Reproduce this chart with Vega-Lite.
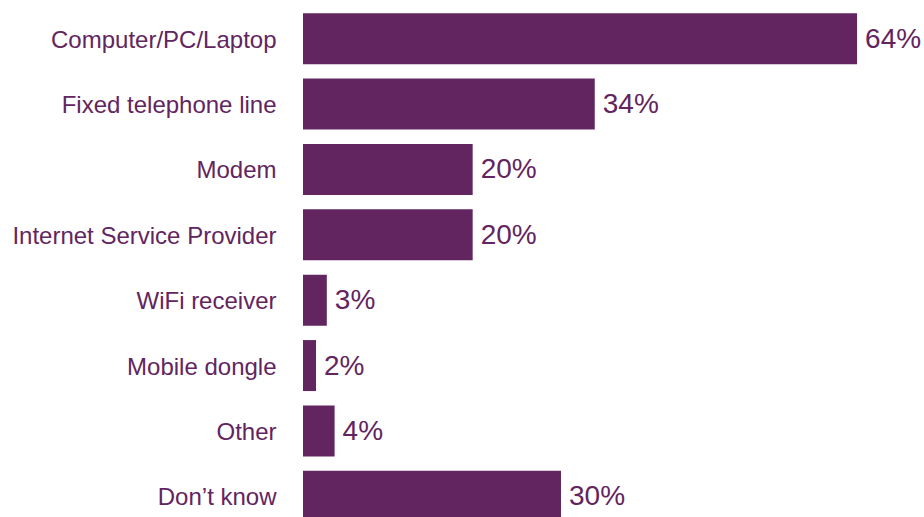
{
  "$schema": "https://vega.github.io/schema/vega-lite/v6.json",
  "autosize": {"type": "none"},
  "width": 606,
  "height": 523,
  "padding": {"left": 303, "top": 6, "right": 15, "bottom": 0},
  "background": "white",
  "data": {"values": [
    {"item": "Computer/PC/Laptop", "pct": 64, "label": "64%"},
    {"item": "Fixed telephone line", "pct": 33.7, "label": "34%"},
    {"item": "Modem", "pct": 19.6, "label": "20%"},
    {"item": "Internet Service Provider", "pct": 19.6, "label": "20%"},
    {"item": "WiFi receiver", "pct": 2.75, "label": "3%"},
    {"item": "Mobile dongle", "pct": 1.5, "label": "2%"},
    {"item": "Other", "pct": 3.65, "label": "4%"},
    {"item": "Don’t know", "pct": 29.8, "label": "30%"}
  ]},
  "config": {"view": {"stroke": null}, "font": "Liberation Sans"},
  "encoding": {
    "y": {"field": "item", "type": "nominal", "sort": null,
      "scale": {"paddingInner": 0.22, "paddingOuter": 0.11},
      "axis": {"title": null, "ticks": false, "domain": false, "labelFontSize": 24, "labelColor": "#62255f", "labelPadding": 27, "labelOffset": 2, "labelFont": "Liberation Sans", "labelLimit": 400}},
    "x": {"field": "pct", "type": "quantitative", "scale": {"domain": [0, 70]}, "axis": null}
  },
  "layer": [
    {"mark": {"type": "bar", "color": "#62255f"}},
    {"mark": {"type": "text", "align": "left", "dx": 8, "dy": 1, "fontSize": 28, "color": "#62255f", "font": "Liberation Sans"},
     "encoding": {"text": {"field": "label"}}}
  ]
}
